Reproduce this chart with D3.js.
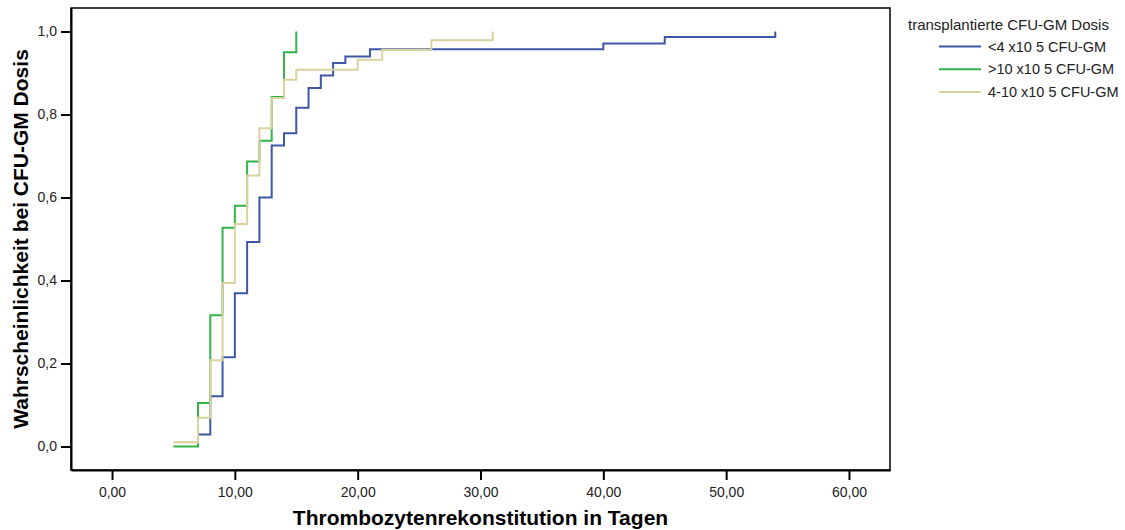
<!DOCTYPE html>
<html>
<head>
<meta charset="utf-8">
<script src="https://cdn.jsdelivr.net/npm/d3@7"></script>
<style>
  body { margin: 0; background: #fff; }
  svg { display: block; font-family: "Liberation Sans", Arial, sans-serif; }
</style>
</head>
<body>
<div id="graph"></div>
<script>
// Kaplan-Meier style cumulative curves (step after)
const lowDoseDays = [7, 8, 9, 10, 11, 12, 13, 14, 15, 16, 17, 18, 19, 21, 40, 45, 54]
const lowDoseProb = [0.029, 0.121, 0.215, 0.369, 0.493, 0.6, 0.725, 0.755, 0.816, 0.864, 0.894, 0.924, 0.94, 0.957, 0.971, 0.987, 1.0]

const highDoseDays = [5, 7, 8, 9, 10, 11, 12, 13, 14, 15]
const highDoseProb = [0.0, 0.105, 0.316, 0.527, 0.58, 0.687, 0.737, 0.842, 0.95, 1.0]

const midDoseDays = [5, 7, 8, 9, 10, 11, 12, 13, 14, 15, 20, 22, 26, 31]
const midDoseProb = [0.01, 0.069, 0.208, 0.394, 0.536, 0.653, 0.767, 0.84, 0.884, 0.908, 0.932, 0.956, 0.979, 1.0]

const seriesNames = ['<4 x10 5 CFU-GM', '>10 x10 5 CFU-GM', '4-10 x10 5 CFU-GM']
const seriesColors = ['#3d57a7', '#33b449', '#d8d29c']

const xTicks = [0, 10, 20, 30, 40, 50, 60]
const yTicks = [0, 0.2, 0.4, 0.6, 0.8, 1.0]

const legendTitle = 'transplantierte CFU-GM Dosis'
const xTitle = 'Thrombozytenrekonstitution in Tagen'
const yTitle = 'Wahrscheinlichkeit bei CFU-GM Dosis'

const series = [
  { name: seriesNames[0], color: seriesColors[0], days: lowDoseDays, prob: lowDoseProb },
  { name: seriesNames[1], color: seriesColors[1], days: highDoseDays, prob: highDoseProb },
  { name: seriesNames[2], color: seriesColors[2], days: midDoseDays, prob: midDoseProb },
]

const width = 1125, height = 530
const frame = { left: 71, right: 890, top: 8, bottom: 470 }

const de = d3.formatLocale({ decimal: ',', thousands: '.', grouping: [3], currency: ['', '€'] })

const svg = d3
  .select('#graph')
  .append('svg')
  .attr('width', width)
  .attr('height', height)

// x(0)=112, x(60)=849 ; y(0)=446.5, y(1)=31.5
const x = d3.scaleLinear().domain([-3.34, 63.34]).range([frame.left, frame.right])
const y = d3.scaleLinear().domain([-0.0566, 1.0566]).range([frame.bottom, frame.top])

svg
  .append('rect')
  .attr('x', frame.left)
  .attr('y', frame.top)
  .attr('width', frame.right - frame.left)
  .attr('height', frame.bottom - frame.top)
  .attr('fill', 'none')
  .attr('stroke', '#000')
  .attr('stroke-width', 1.5)

const xAxis = svg
  .append('g')
  .attr('transform', `translate(0,${frame.bottom})`)
  .call(d3.axisBottom(x).tickValues(xTicks).tickFormat(de.format('.2f')).tickSize(10).tickPadding(7).tickSizeOuter(0))
xAxis.select('.domain').attr('stroke-width', 2)
xAxis.selectAll('.tick line').attr('stroke-width', 2)
xAxis.selectAll('text').style('font-size', '14px').attr('fill', '#222')

const yAxis = svg
  .append('g')
  .attr('transform', `translate(${frame.left},0)`)
  .call(d3.axisLeft(y).tickValues(yTicks).tickFormat(de.format('.1f')).tickSize(10).tickPadding(4).tickSizeOuter(0))
yAxis.select('.domain').attr('stroke-width', 2)
yAxis.selectAll('.tick line').attr('stroke-width', 2)
yAxis.selectAll('text').style('font-size', '14px').attr('fill', '#222')

const line = d3
  .line()
  .x((d) => x(d[0]))
  .y((d) => y(d[1]))
  .curve(d3.curveStepAfter)

series.forEach((s) => {
  svg
    .append('path')
    .datum(s.days.map((d, i) => [d, s.prob[i]]))
    .attr('d', line)
    .attr('fill', 'none')
    .attr('stroke', s.color)
    .attr('stroke-width', 2)
})

// axis titles
svg
  .append('text')
  .attr('x', (frame.left + frame.right) / 2)
  .attr('y', 525)
  .attr('text-anchor', 'middle')
  .style('font-size', '21px')
  .style('font-weight', 'bold')
  .text(xTitle)

svg
  .append('text')
  .attr('transform', `translate(28,${(frame.top + frame.bottom) / 2}) rotate(-90)`)
  .attr('text-anchor', 'middle')
  .style('font-size', '21px')
  .style('font-weight', 'bold')
  .text(yTitle)

// legend
const legend = svg.append('g')
legend
  .append('text')
  .attr('x', 908)
  .attr('y', 29.5)
  .style('font-size', '15px')
  .attr('fill', '#222')
  .text(legendTitle)

series.forEach((s, i) => {
  const ly = 46.5 + i * 22.7
  legend
    .append('line')
    .attr('x1', 939)
    .attr('x2', 981)
    .attr('y1', ly)
    .attr('y2', ly)
    .attr('stroke', s.color)
    .attr('stroke-width', 2)
  legend
    .append('text')
    .attr('x', 988)
    .attr('y', ly)
    .attr('dy', '0.35em')
    .style('font-size', '14.5px')
    .attr('fill', '#222')
    .text(s.name)
})
</script>
</body>
</html>
